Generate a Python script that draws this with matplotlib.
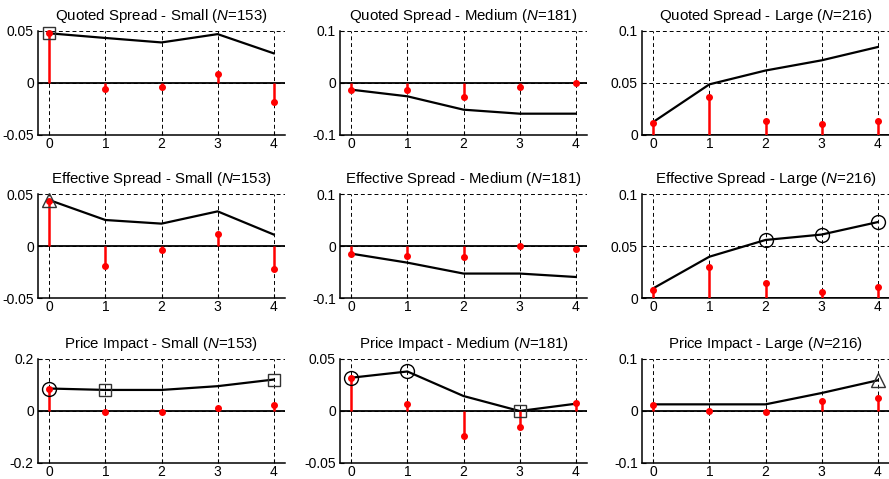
import numpy as np
import matplotlib
matplotlib.use("Agg")
import matplotlib.pyplot as plt
from matplotlib.ticker import FuncFormatter

plt.rcParams['font.family'] = ['Liberation Sans', 'DejaVu Sans']
plt.rcParams['mathtext.fontset'] = 'custom'
plt.rcParams['mathtext.rm'] = 'Liberation Sans'
plt.rcParams['mathtext.it'] = 'Liberation Sans:italic'
plt.rcParams['axes.unicode_minus'] = False

# Data
days = [0, 1, 2, 3, 4]
measures = ['Quoted Spread', 'Effective Spread', 'Price Impact']
sizes = ['Small', 'Medium', 'Large']
n_obs = [153, 181, 216]

# cumulative (black line)
qs_cum = [
    [0.0478, 0.0433, 0.0390, 0.0470, 0.0285],
    [-0.0128, -0.0256, -0.0513, -0.0590, -0.0590],
    [0.0125, 0.0487, 0.0620, 0.0718, 0.0846],
]
es_cum = [
    [0.0442, 0.0250, 0.0215, 0.0333, 0.0110],
    [-0.0147, -0.0320, -0.0530, -0.0530, -0.0596],
    [0.0093, 0.0397, 0.0558, 0.0610, 0.0730],
]
pi_cum = [
    [0.0865, 0.0810, 0.0810, 0.0955, 0.1210],
    [0.0320, 0.0380, 0.0144, 0.0000, 0.0070],
    [0.0128, 0.0128, 0.0128, 0.0346, 0.0590],
]

# daily (red stems)
qs_day = [
    [0.0478, -0.0058, -0.0038, 0.0083, -0.0180],
    [-0.0128, -0.0128, -0.0270, -0.0077, 0.0006],
    [0.0115, 0.0369, 0.0135, 0.0103, 0.0135],
]
es_day = [
    [0.0436, -0.0196, -0.0038, 0.0112, -0.0224],
    [-0.0154, -0.0200, -0.0210, 0.0006, -0.0058],
    [0.0080, 0.0300, 0.0147, 0.0058, 0.0109],
]
pi_day = [
    [0.0840, -0.0040, -0.0040, 0.0116, 0.0245],
    [0.0320, 0.0064, -0.0237, -0.0154, 0.0074],
    [0.0122, 0.0006, -0.0026, 0.0199, 0.0256],
]

# significance markers on the cumulative line: (row, col) -> indices
sig_square = {(0, 0): [0], (2, 0): [1, 4], (2, 1): [3]}
sig_triangle = {(1, 0): [0], (2, 2): [4]}
sig_circle = {(1, 2): [2, 3, 4], (2, 0): [0], (2, 1): [0, 1]}

y_limits = [
    [(-0.05, 0.05), (-0.1, 0.1), (0, 0.1)],
    [(-0.05, 0.05), (-0.1, 0.1), (0, 0.1)],
    [(-0.2, 0.2), (-0.05, 0.05), (-0.1, 0.1)],
]

cum_data = [qs_cum, es_cum, pi_cum]
day_data = [qs_day, es_day, pi_day]

fig = plt.figure(figsize=(8.89, 4.79), dpi=100)

W, H = 889, 479
lefts = [38, 340, 642]
tops = [31, 194, 359]
ax_w, ax_h = 247, 104

for r in range(3):
    for c in range(3):
        ax = fig.add_axes([lefts[c] / W, 1 - (tops[r] + ax_h) / H, ax_w / W, ax_h / H])
        lo, hi = y_limits[r][c]
        ax.set_xlim(-0.2, 4.2)
        ax.set_ylim(lo, hi)
        ax.set_xticks(days)
        ax.set_yticks([lo, (lo + hi) / 2, hi])
        ax.yaxis.set_major_formatter(FuncFormatter(lambda v, p: '%g' % round(v, 4)))
        ax.tick_params(direction='in', length=3, labelsize=10, width=0.8)
        ax.tick_params(axis='x', pad=1.5)
        ax.tick_params(axis='y', pad=3)
        ax.grid(True, color='black', linestyle=(0, (4, 3)), linewidth=0.7)
        ax.set_axisbelow(True)
        for s in ['top', 'right']:
            ax.spines[s].set_visible(False)
        for s in ['left', 'bottom']:
            ax.spines[s].set_linewidth(1.1)

        ax.axhline(0, color='black', linewidth=1.3, zorder=2)

        cum = cum_data[r][c]
        day = day_data[r][c]
        ax.plot(days, cum, color='black', linewidth=1.6, zorder=3)
        ax.vlines(days, 0, day, color='red', linewidth=1.8, zorder=4)
        ax.plot(days, day, 'o', color='red', markersize=4, zorder=5, clip_on=False)

        key = (r, c)
        if key in sig_square:
            idx = sig_square[key]
            ax.plot([days[i] for i in idx], [cum[i] for i in idx], 's', mfc='none',
                    mec='#333333', markersize=9, mew=1.0, zorder=6, clip_on=False)
        if key in sig_triangle:
            idx = sig_triangle[key]
            ax.plot([days[i] for i in idx], [cum[i] for i in idx], '^', mfc='none',
                    mec='#333333', markersize=10, mew=1.0, zorder=6, clip_on=False)
        if key in sig_circle:
            idx = sig_circle[key]
            ax.plot([days[i] for i in idx], [cum[i] for i in idx], 'o', mfc='none',
                    mec='black', markersize=10, mew=1.0, zorder=6, clip_on=False)

        ax.set_title('%s - %s ($N$=%d)' % (measures[r], sizes[c], n_obs[c]),
                     fontsize=10.8, pad=8)

fig.savefig('out.png', dpi=100)
